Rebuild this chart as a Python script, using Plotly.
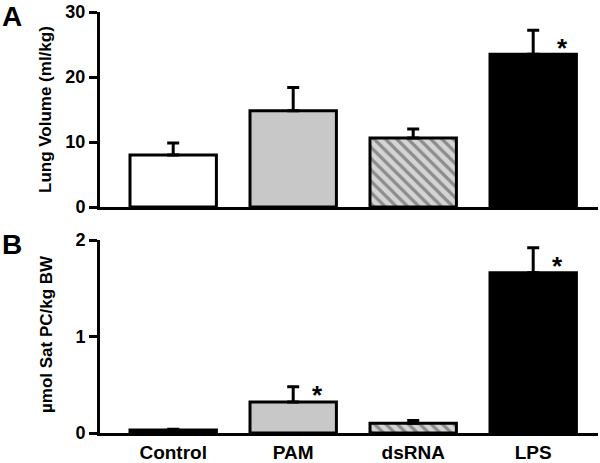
import plotly.graph_objects as go

categories = ["Control", "PAM", "dsRNA", "LPS"]
lung_volume = [8.0, 14.8, 10.6, 23.5]
lung_volume_err = [1.85, 3.6, 1.4, 3.7]
satpc = [0.03, 0.32, 0.10, 1.66]
satpc_err = [0.01, 0.16, 0.03, 0.26]
sig_a = ["LPS"]
sig_b = ["PAM", "LPS"]

fills = ["white", "#c8c8c8", "#d4d4d4", "black"]
patterns = ["", "", "\\", ""]

FONT = "Liberation Sans, Arial, sans-serif"
W, H = 600, 463

fig = go.Figure()

def add_bars(vals, errs, xa, ya):
    fig.add_trace(go.Bar(
        x=list(range(len(categories))), y=vals,
        xaxis=xa, yaxis=ya,
        width=0.72,
        marker=dict(color=fills, line=dict(color="black", width=3),
                    pattern=dict(shape=patterns, fgcolor="black", bgcolor="#d4d4d4",
                                 size=8, solidity=0.4)),
        error_y=dict(type="data", symmetric=False, array=errs,
                     arrayminus=[0] * len(errs), color="black", thickness=3, width=6),
        showlegend=False, hoverinfo="skip",
    ))

add_bars(lung_volume, lung_volume_err, "x", "y")
add_bars(satpc, satpc_err, "x2", "y2")

tickfont = dict(family=FONT, size=18, color="black", weight="bold")
xrange = [-0.61, 3.54]
common_y = dict(showline=True, linecolor="black", linewidth=3,
                ticks="outside", ticklen=8, tickwidth=3, tickcolor="black",
                tickfont=tickfont, showgrid=False, zeroline=False, automargin=False)
fig.update_layout(
    width=W, height=H, autosize=False,
    margin=dict(l=0, r=0, t=0, b=0, pad=0),
    plot_bgcolor="white", paper_bgcolor="white",
    xaxis=dict(domain=[100/W, 598/W], range=xrange, anchor="y",
               showline=True, linecolor="black", linewidth=3, ticks="",
               showticklabels=False, showgrid=False, zeroline=False, automargin=False),
    yaxis=dict(domain=[(H-207)/H, (H-12)/H], range=[0, 30], anchor="x",
               tickvals=[0, 10, 20, 30], **common_y),
    xaxis2=dict(domain=[100/W, 598/W], range=xrange, anchor="y2",
                showline=True, linecolor="black", linewidth=3, ticks="",
                tickvals=list(range(len(categories))), ticktext=categories,
                tickfont=dict(family=FONT, size=19, color="black", weight="bold"),
                showgrid=False, zeroline=False, automargin=False),
    yaxis2=dict(domain=[(H-433)/H, (H-240)/H], range=[0, 2], anchor="x2",
                tickvals=[0, 1, 2], **common_y),
)

ann = []
ann.append(dict(text="A", x=1/W, y=1, xref="paper", yref="paper", xanchor="left", yanchor="top",
                showarrow=False, borderpad=0, font=dict(family=FONT, size=28, color="black", weight="bold")))
ann.append(dict(text="B", x=1/W, y=(H-228)/H, xref="paper", yref="paper", xanchor="left", yanchor="top",
                showarrow=False, borderpad=0, font=dict(family=FONT, size=28, color="black", weight="bold")))
ann.append(dict(text="Lung Volume (ml/kg)", x=46/W, y=(H-110)/H, xref="paper", yref="paper",
                xanchor="center", yanchor="middle", textangle=-90, showarrow=False,
                font=dict(family=FONT, size=17, color="black", weight="bold")))
ann.append(dict(text="µmol Sat PC/kg BW", x=46/W, y=(H-334)/H, xref="paper", yref="paper",
                xanchor="center", yanchor="middle", textangle=-90, showarrow=False,
                font=dict(family=FONT, size=17, color="black", weight="bold")))
for c in sig_a:
    i = categories.index(c)
    ann.append(dict(text="*", x=i + 0.24, y=lung_volume[i], xref="x", yref="y",
                    xanchor="center", yanchor="middle", showarrow=False, yshift=6,
                    font=dict(family=FONT, size=26, color="black", weight="bold")))
for c in sig_b:
    i = categories.index(c)
    ann.append(dict(text="*", x=i + 0.2, y=satpc[i], xref="x2", yref="y2",
                    xanchor="center", yanchor="middle", showarrow=False, yshift=7,
                    font=dict(family=FONT, size=26, color="black", weight="bold")))
fig.update_layout(annotations=ann)

fig.write_html("out.html", config={"displayModeBar": False},
               post_script="document.body.style.margin='0';")
